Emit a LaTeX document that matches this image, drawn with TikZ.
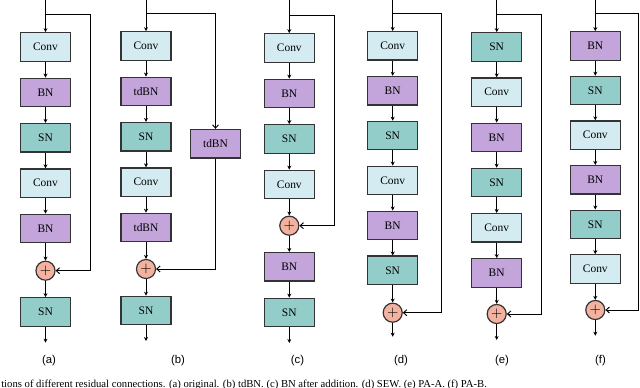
\documentclass[tikz,border=0pt]{standalone}
\usepackage{fontspec}
\setmainfont{Liberation Serif}
\setsansfont{Liberation Sans}
\usetikzlibrary{arrows.meta}

\definecolor{convfill}{HTML}{D4ECF1}
\definecolor{bnfill}{HTML}{C3A5DC}
\definecolor{snfill}{HTML}{93CDC9}
\definecolor{addfill}{HTML}{F3B2A0}
\definecolor{edge}{HTML}{333333}

\tikzset{
  blk/.style={draw=edge, line width=0.9pt, minimum width=37.5pt, minimum height=21.4pt, inner sep=0pt, font=\fontsize{8.6}{10}\selectfont},
  conv/.style={blk, fill=convfill},
  bn/.style={blk, fill=bnfill},
  sn/.style={blk, fill=snfill},
  add/.style={circle, draw=edge, line width=0.9pt, fill=addfill, minimum size=14.3pt, inner sep=0pt, font=\fontsize{11}{11}\selectfont},
  flow/.style={line width=0.7pt, -{Stealth[length=3pt,width=3pt]}},
  skip/.style={line width=0.7pt, -{Straight Barb[length=2.5pt,width=4.5pt]}},
  tag/.style={font=\sffamily\fontsize{8.5}{10}\selectfont, inner sep=0pt}
}

\begin{document}
\begin{tikzpicture}[x=0.75pt, y=-0.75pt]

\useasboundingbox (0,0) rectangle (640,388);
\clip (0,0) rectangle (640,388);

% (a) original
	\foreach \s/\t [count=\i] in {conv/Conv, bn/BN, sn/SN, conv/Conv, bn/BN}
		\node[\s] (a\i) at (45.5,{47+45.4*(\i-1)}) {\t};
	\node[add] (aadd) at (45.5,270.7) {$+$};
	\node[sn] (a6) at (45.5,312) {SN};
	\coordinate (ain) at (45.5,0);
	\coordinate (abr) at (45.5,14);
	\coordinate (askip) at (90,14);
	\coordinate (aout) at (45.5,342.7);
	\draw[flow] (ain) -- (a1);
	\foreach \i [evaluate=\i as \j using int(\i+1)] in {1,...,4}
		\draw[flow] (a\i) -- (a\j);
	\draw[flow] (a5) -- (aadd);
	\draw[flow] (aadd) -- (a6);
	\draw[flow] (a6) -- (aout);
	\draw[skip] (abr) -- (askip) |- (aadd.east);

% (b) tdBN
	\foreach \s/\t [count=\i] in {conv/Conv, bn/tdBN, sn/SN, conv/Conv, bn/tdBN}
		\node[\s] (b\i) at (146,{46+45.4*(\i-1)}) {\t};
	\node[add] (badd) at (146,269) {$+$};
	\node[sn] (b6) at (146,310.5) {SN};
	\node[bn] (bside) at (215.5,143.7) {tdBN};
	\coordinate (bin) at (146,0);
	\coordinate (bbr) at (146,13.3);
	\coordinate (bout) at (146,341);
	\draw[flow] (bin) -- (b1);
	\foreach \i [evaluate=\i as \j using int(\i+1)] in {1,...,4}
		\draw[flow] (b\i) -- (b\j);
	\draw[flow] (b5) -- (badd);
	\draw[flow] (badd) -- (b6);
	\draw[flow] (b6) -- (bout);
	\draw[skip] (bbr) -| (bside.north);
	\draw[skip] (bside.south) |- (badd.east);

% (c) BN after addition
	\foreach \s/\t [count=\i] in {conv/Conv, bn/BN, sn/SN, conv/Conv}
		\node[\s] (c\i) at (289.3,{48+45.5*(\i-1)}) {\t};
	\node[add] (cadd) at (289.3,225.7) {$+$};
	\node[bn] (c5) at (289.3,266.8) {BN};
	\node[sn] (c6) at (289.3,312.5) {SN};
	\coordinate (cin) at (289.3,0);
	\coordinate (cbr) at (289.3,15);
	\coordinate (cskip) at (334.3,15);
	\coordinate (cout) at (289.3,343);
	\draw[flow] (cin) -- (c1);
	\foreach \i [evaluate=\i as \j using int(\i+1)] in {1,...,3}
		\draw[flow] (c\i) -- (c\j);
	\draw[flow] (c4) -- (cadd);
	\draw[flow] (cadd) -- (c5);
	\draw[flow] (c5) -- (c6);
	\draw[flow] (c6) -- (cout);
	\draw[skip] (cbr) -- (cskip) |- (cadd.east);

% (d) SEW
	\foreach \s/\t [count=\i] in {conv/Conv, bn/BN, sn/SN, conv/Conv, bn/BN, sn/SN}
		\node[\s] (d\i) at (392.7,{45.8+44.9*(\i-1)}) {\t};
	\node[add] (dadd) at (392.7,312.7) {$+$};
	\coordinate (din) at (392.7,0);
	\coordinate (dbr) at (392.7,13.3);
	\coordinate (dskip) at (441,13.3);
	\coordinate (dout) at (392.7,336.7);
	\draw[flow] (din) -- (d1);
	\foreach \i [evaluate=\i as \j using int(\i+1)] in {1,...,5}
		\draw[flow] (d\i) -- (d\j);
	\draw[flow] (d6) -- (dadd);
	\draw[flow] (dadd) -- (dout);
	\draw[skip] (dbr) -- (dskip) |- (dadd.east);

% (e) PA-A
	\foreach \s/\t [count=\i] in {sn/SN, conv/Conv, bn/BN, sn/SN, conv/Conv, bn/BN}
		\node[\s] (e\i) at (496.7,{47+45.2*(\i-1)}) {\t};
	\node[add] (eadd) at (496.7,314) {$+$};
	\coordinate (ein) at (496.7,0);
	\coordinate (ebr) at (496.7,14.3);
	\coordinate (eskip) at (541,14.3);
	\coordinate (eout) at (496.7,340);
	\draw[flow] (ein) -- (e1);
	\foreach \i [evaluate=\i as \j using int(\i+1)] in {1,...,5}
		\draw[flow] (e\i) -- (e\j);
	\draw[flow] (e6) -- (eadd);
	\draw[flow] (eadd) -- (eout);
	\draw[skip] (ebr) -- (eskip) |- (eadd.east);

% (f) PA-B
	\foreach \s/\t [count=\i] in {bn/BN, sn/SN, conv/Conv, bn/BN, sn/SN, conv/Conv}
		\node[\s] (f\i) at (595.3,{46+44.6*(\i-1)}) {\t};
	\node[add] (fadd) at (595.3,310) {$+$};
	\coordinate (fin) at (595.3,0);
	\coordinate (fbr) at (595.3,13.3);
	\coordinate (fskip) at (638.5,13.3);
	\coordinate (fout) at (595.3,335.7);
	\draw[flow] (fin) -- (f1);
	\foreach \i [evaluate=\i as \j using int(\i+1)] in {1,...,5}
		\draw[flow] (f\i) -- (f\j);
	\draw[flow] (f6) -- (fadd);
	\draw[flow] (fadd) -- (fout);
	\draw[skip] (fbr) -- (fskip) |- (fadd.east);

% Etiquetas
	\foreach \n/\x in {a/49, b/178, c/297.5, d/401, e/502, f/600.5}
		\node[tag] (tag\n) at (\x,361) {(\n)};

	\node[anchor=base west, inner sep=0pt, font=\fontsize{8}{9}\selectfont] (cap) at (1,387.5)
		{tions of different residual connections. (a) original. (b) tdBN. (c) BN after addition. (d) SEW. (e) PA-A. (f) PA-B.};
\end{tikzpicture}
\end{document}
